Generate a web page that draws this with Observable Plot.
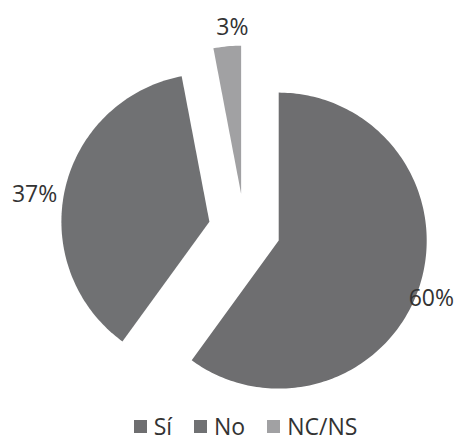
<!DOCTYPE html>
<html>
<head>
<meta charset="utf-8">
<script src="https://cdn.jsdelivr.net/npm/d3@7"></script>
<script src="https://cdn.jsdelivr.net/npm/@observablehq/plot@0.6"></script>
<style>
  html, body { margin: 0; padding: 0; background: #fff; }
  #chart { width: 459px; height: 441px; position: relative; overflow: hidden; }
  .legend { position: absolute; left: 0; top: 411px; width: 459px; height: 30px; line-height: 30px; display: flex; justify-content: center; align-items: center; gap: 22px; font-family: "Open Sans", "DejaVu Sans", sans-serif; font-size: 23px; color: #333; padding-left: 32px; box-sizing: border-box; }
  .legend span.item { display: flex; align-items: center; }
  .legend span.sw { display: inline-block; width: 13px; height: 13px; margin-right: 7px; }
</style>
</head>
<body>
<div id="chart"></div>
<script>
const categories = ["Sí", "No", "NC/NS"];
const values = [60, 37, 3];
const labels = ["60%", "37%", "3%"];
const colors = ["#6e6e70", "#707173", "#a1a1a3"];

// layout (pixels)
const W = 459, H = 408;
const cx = 244, cy = 229, R = 148;
const explode = 0.243;               // radial offset as fraction of radius
const labelR = 1.37;
const labelNudge = { "Sí": [-6, 6], "No": [-12, 9], "NC/NS": [7, 0] };

const pie = d3.pie().sort(null).value(d => d.value)(
  categories.map((c, i) => ({ cat: c, value: values[i], label: labels[i], color: colors[i] }))
);

const pts = [];
const lbl = [];
pie.forEach(p => {
  const mid = (p.startAngle + p.endAngle) / 2;
  const ox = explode * Math.sin(mid), oy = -explode * Math.cos(mid);
  pts.push({ cat: p.data.cat, x: ox, y: oy, color: p.data.color });
  const n = Math.max(2, Math.ceil((p.endAngle - p.startAngle) / 0.02));
  for (let k = 0; k <= n; k++) {
    const a = p.startAngle + (p.endAngle - p.startAngle) * k / n;
    pts.push({ cat: p.data.cat, x: ox + Math.sin(a), y: oy - Math.cos(a), color: p.data.color });
  }
  pts.push({ cat: p.data.cat, x: ox, y: oy, color: p.data.color });
  const [nx, ny] = labelNudge[p.data.cat];
  lbl.push({ x: labelR * Math.sin(mid) + nx / R, y: -labelR * Math.cos(mid) + ny / R, text: p.data.label });
});

const chart = Plot.plot({
  width: W, height: H,
  margin: 0,
  x: { domain: [-1, 1], range: [cx - R, cx + R], axis: null },
  y: { domain: [-1, 1], range: [cy - R, cy + R], axis: null },
  style: { background: "#fff" },
  marks: [
    Plot.line(pts, { x: "x", y: "y", z: "cat", fill: "color", stroke: "none", curve: "linear" }),
    Plot.text(lbl, { x: "x", y: "y", text: "text", fontSize: 23, fill: "#333", fontFamily: "Open Sans, DejaVu Sans, sans-serif", textAnchor: "middle" })
  ]
});
document.getElementById("chart").appendChild(chart);

const leg = document.createElement("div");
leg.className = "legend";
categories.forEach((c, i) => {
  const it = document.createElement("span");
  it.className = "item";
  const sw = document.createElement("span");
  sw.className = "sw";
  sw.style.background = colors[i];
  it.appendChild(sw);
  it.appendChild(document.createTextNode(c));
  leg.appendChild(it);
});
document.getElementById("chart").appendChild(leg);
</script>
</body>
</html>
